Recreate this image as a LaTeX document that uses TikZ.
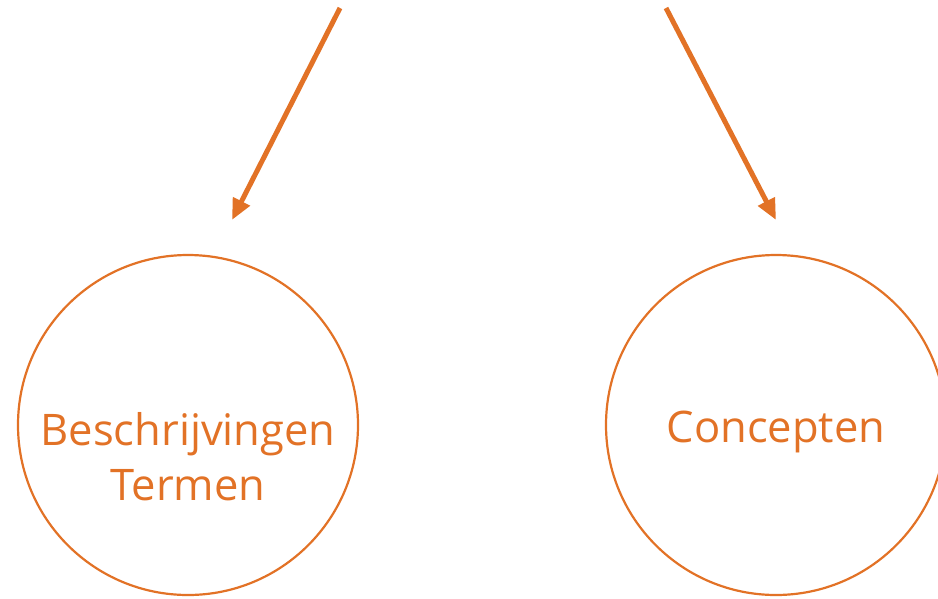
\documentclass[tikz,border=0pt]{standalone}
\usepackage{fontspec}
\setmainfont{Open Sans}
\usetikzlibrary{arrows.meta}
\definecolor{orng}{RGB}{226,114,38}
\begin{document}
\begin{tikzpicture}[x=1pt,y=-1pt,
  circ/.style={circle,draw=orng,line width=2.2pt,minimum size=340pt,inner sep=0pt},
  lbl/.style={text=orng,font=\fontsize{43.5}{55}\selectfont,align=center},
  arr/.style={draw=orng,line width=5pt,-{Triangle[length=21pt,width=18pt]}}]
\useasboundingbox (0,0) rectangle (938,598);
\node[circ] (L) at (188,425) {};
\node[circ] (R) at (776,425) {};
\node[lbl] (lt) at (188,457) {Beschrijvingen\\Termen};
\node[lbl] (rt) at (776,432) {Concepten};
\coordinate (ls) at (340,8);
\coordinate (le) at (232,220);
\coordinate (rs) at (666,8);
\coordinate (re) at (776,220);
\draw[arr] (ls) -- (le);
\draw[arr] (rs) -- (re);
\end{tikzpicture}
\end{document}
